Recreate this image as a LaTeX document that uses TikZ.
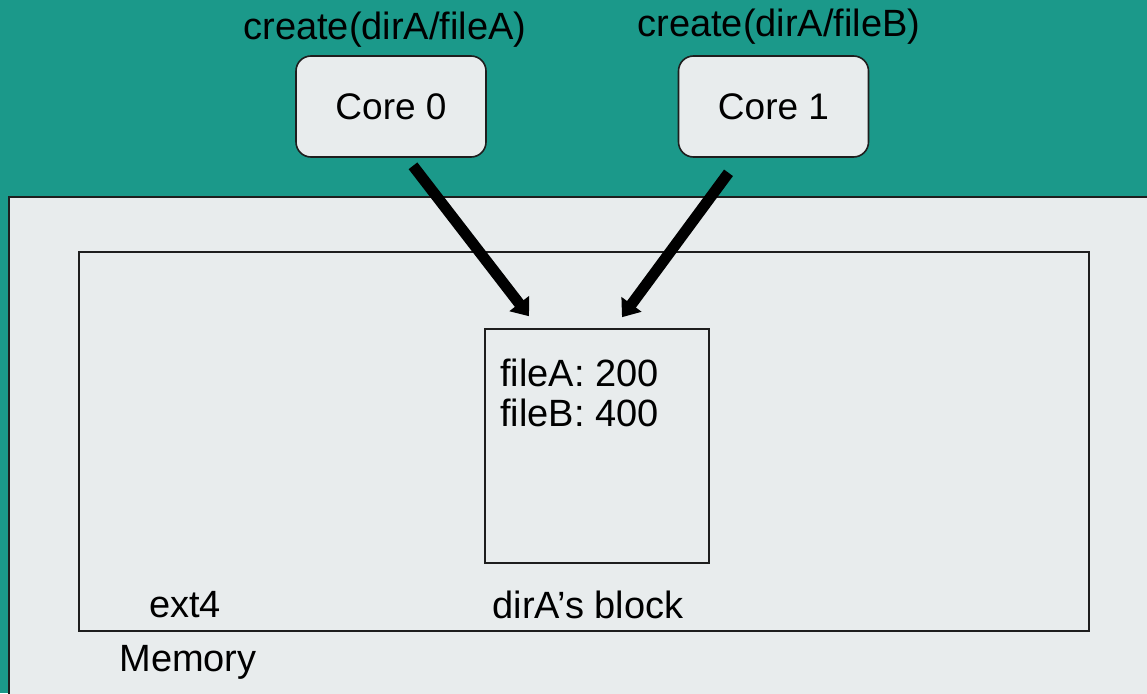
\documentclass[tikz,border=0pt]{standalone}
\usepackage{fontspec}
\setmainfont{Liberation Sans}
\usetikzlibrary{arrows.meta}
\definecolor{teal}{HTML}{1B998A}
\definecolor{paper}{HTML}{E8ECED}
\definecolor{ink}{HTML}{1E1E1E}
\begin{document}
\begin{tikzpicture}[x=1pt,y=-1pt,
  lbl/.style={font=\fontsize{38}{45}\selectfont, inner sep=0pt},
  corebox/.style={draw=ink, line width=1.6pt, fill=paper, rounded corners=15pt,
    minimum width=190pt, minimum height=101pt, font=\fontsize{37}{44}\selectfont},
  frame/.style={draw=ink, line width=1.6pt},
  bigarrow/.style={line width=11pt, draw=black, -{Triangle[width=24pt,length=16pt]}}]
  % background
  \fill[teal] (0,0) rectangle (1147,693);
  \useasboundingbox (0,0) rectangle (1147,693);
  % memory region
  \draw[draw=ink, line width=2.6pt, fill=paper] (9,197) rectangle (1170,720);
  % ext4 region
  \node[frame, minimum width=1010pt, minimum height=379pt, inner sep=0pt] (ext) at (584,441.5) {};
  % directory block
  \node[frame, minimum width=224pt, minimum height=234pt, inner sep=0pt] (block) at (597,446) {};
  % cores
  \node[corebox] (core0) at (391,106.5) {Core 0};
  \node[corebox] (core1) at (773.5,106.5) {Core 1};
  % labels
  \node[lbl] (op0) at (385,30) {create(dirA/fileA)};
  \node[lbl] (op1) at (779,27) {create(dirA/fileB)};
  \node[lbl, anchor=west] (fa) at (500,373) {fileA: 200};
  \node[lbl, anchor=west] (fb) at (500,413) {fileB: 400};
  \node[lbl] (blk) at (588,605) {dirA’s block};
  \node[lbl] (fs) at (185,605) {ext4};
  \node[lbl] (mem) at (188,662) {Memory};
  % requests
  \draw[bigarrow] ([xshift=22pt,yshift=-8pt]core0.south) -- ([xshift=-68pt,yshift=12pt]block.north);
  \draw[bigarrow] ([xshift=-45pt,yshift=-15pt]core1.south) -- ([xshift=25pt,yshift=11pt]block.north);
\end{tikzpicture}
\end{document}
